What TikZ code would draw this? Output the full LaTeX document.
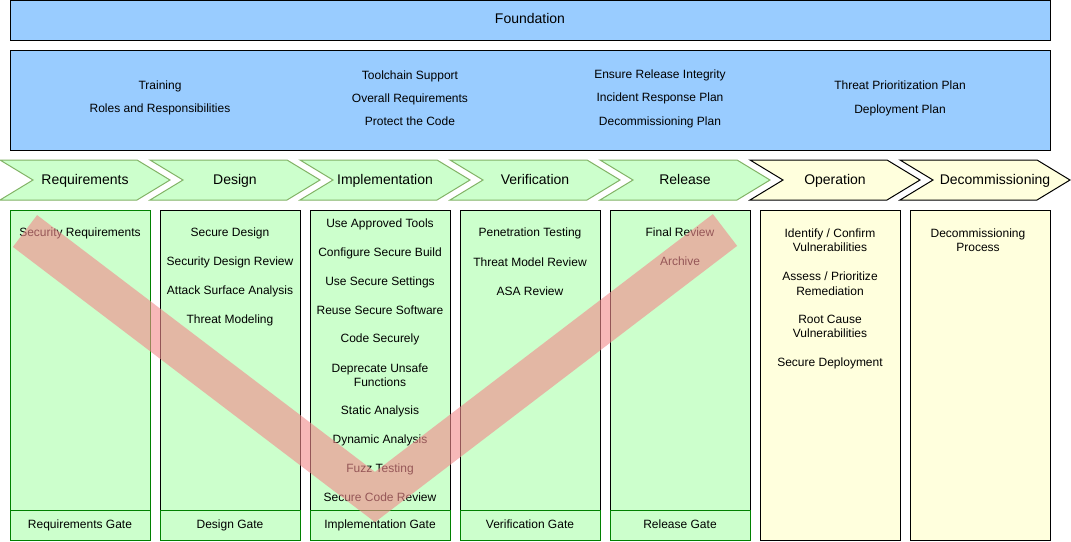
\documentclass[tikz,border=0pt]{standalone}
\usepackage{fontspec}
\setmainfont{Liberation Sans}
\usetikzlibrary{positioning}
\definecolor{sdlblue}{HTML}{99CCFF}
\definecolor{sdlgreen}{HTML}{CCFFCC}
\definecolor{sdlgreenline}{HTML}{82B366}
\definecolor{sdldarkgreen}{HTML}{008000}
\definecolor{sdlyellow}{HTML}{FFFFDD}
\definecolor{sdlred}{HTML}{F28C8D}
\begin{document}
\begin{tikzpicture}[x=1pt,y=-1pt,
  box/.style={draw=black,line width=1pt,inner sep=0pt},
  fnd/.style={box,fill=sdlblue,minimum width=1040pt},
  txt/.style={font=\fontsize{12}{14.5}\selectfont,align=center,inner sep=0pt},
  hdr/.style={font=\fontsize{14}{17}\selectfont,inner sep=0pt,text height=10pt,text depth=3pt},
  chevg/.style={draw=sdlgreenline,line width=1pt,fill=sdlgreen},
  chevy/.style={draw=black,line width=1pt,fill=sdlyellow},
  gcol/.style={box,fill=sdlgreen,minimum width=140pt,minimum height=330pt},
  ycol/.style={box,fill=sdlyellow,minimum width=140pt,minimum height=330pt},
  gate/.style={box,draw=sdldarkgreen,fill=sdlgreen,minimum width=140pt,minimum height=30pt,
    font=\fontsize{12}{14.5}\selectfont,text height=8.5pt,text depth=2.5pt},
  vband/.style={draw=sdlred,line width=40pt,line join=miter,opacity=0.62}
]
\useasboundingbox (0,0) rectangle (1071,541);
% foundation
\node[fnd,minimum height=39.5pt,hdr,draw] (found) at (530,20.25) {Foundation};
\node[fnd,minimum height=100pt] (practices) at (530,100) {};
\node[txt] (fnd-a) at (160,98) {Training\\[9pt]Roles and Responsibilities};
\node[txt] (fnd-b) at (410,98) {Toolchain Support\\[8.5pt]Overall Requirements\\[8.5pt]Protect the Code};
\node[txt] (fnd-c) at (660,98.5) {Ensure Release Integrity\\[9pt]Incident Response Plan\\[9pt]Decommissioning Plan};
\node[txt] (fnd-d) at (900,98.5) {Threat Prioritization Plan\\[9pt]Deployment Plan};
% phases
\foreach \x in {0,150,300,450,600}
  \draw[chevg] (\x,160) -- ++(137,0) -- ++(33,20) -- ++(-33,20) -- ++(-137,0) -- ++(33,-20) -- cycle;
\foreach \x in {750,900}
  \draw[chevy] (\x,160) -- ++(137,0) -- ++(33,20) -- ++(-33,20) -- ++(-137,0) -- ++(33,-20) -- cycle;
\node[hdr] (ph-req) at (85,180.5) {Requirements};
\node[hdr] (ph-des) at (235,180.5) {Design};
\node[hdr] (ph-imp) at (385,180.5) {Implementation};
\node[hdr] (ph-ver) at (535,180.5) {Verification};
\node[hdr] (ph-rel) at (685,180.5) {Release};
\node[hdr] (ph-ops) at (835,180.5) {Operation};
\node[hdr] (ph-dec) at (995,180.5) {Decommissioning};
% columns
\node[gcol,draw=sdldarkgreen] (col-req) at (80,375) {};
\node[gcol] (col-des) at (230,375) {};
\node[gcol] (col-imp) at (380,375) {};
\node[gcol] (col-ver) at (530,375) {};
\node[gcol] (col-rel) at (680,375) {};
\node[ycol] (col-ops) at (830,375) {};
\node[ycol] (col-dec) at (980,375) {};
\node[gate] (gate-req) at (80,525) {Requirements Gate};
\node[gate] (gate-des) at (230,525) {Design Gate};
\node[gate] (gate-imp) at (380,525) {Implementation Gate};
\node[gate] (gate-ver) at (530,525) {Verification Gate};
\node[gate] (gate-rel) at (680,525) {Release Gate};
% requirements and design
\node[txt] (req-1) at (80,233) {Security Requirements};
\node[txt] (des-1) at (230,233) {Secure Design};
\node[txt] (des-2) at (230,262) {Security Design Review};
\node[txt] (des-3) at (230,291) {Attack Surface Analysis};
\node[txt] (des-4) at (230,320) {Threat Modeling};
% implementation
\node[txt] (imp-1) at (380,224) {Use Approved Tools};
\node[txt] (imp-2) at (380,253) {Configure Secure Build};
\node[txt] (imp-3) at (380,282) {Use Secure Settings};
\node[txt] (imp-4) at (380,310) {Reuse Secure Software};
\node[txt] (imp-5) at (380,339.5) {Code Securely};
\node[txt] (imp-6) at (380,375) {Deprecate Unsafe\\Functions};
\node[txt] (imp-7) at (380,411) {Static Analysis};
\node[txt] (imp-8) at (380,440) {Dynamic Analysis};
\node[txt] (imp-9) at (380,469) {Fuzz Testing};
\node[txt] (imp-10) at (380,497) {Secure Code Review};
% verification and release
\node[txt] (ver-1) at (530,233) {Penetration Testing};
\node[txt] (ver-2) at (530,262) {Threat Model Review};
\node[txt] (ver-3) at (530,291) {ASA Review};
\node[txt] (rel-1) at (680,232.5) {Final Review};
\node[txt] (rel-2) at (680,261.5) {Archive};
% operation and decommissioning
\node[txt] (ops-1) at (830,240) {Identify / Confirm\\Vulnerabilities};
\node[txt] (ops-2) at (830,283.5) {Assess / Prioritize\\Remediation};
\node[txt] (ops-3) at (830,326.5) {Root Cause\\Vulnerabilities};
\node[txt] (ops-4) at (830,363) {Secure Deployment};
\node[txt] (dec-1) at (978,240) {Decommissioning\\Process};
% V overlay
\coordinate (v-left) at (25,231);
\coordinate (v-tip) at (375,497);
\coordinate (v-right) at (725,230);
\draw[vband] (v-left) -- (v-tip) -- (v-right);
\end{tikzpicture}
\end{document}
